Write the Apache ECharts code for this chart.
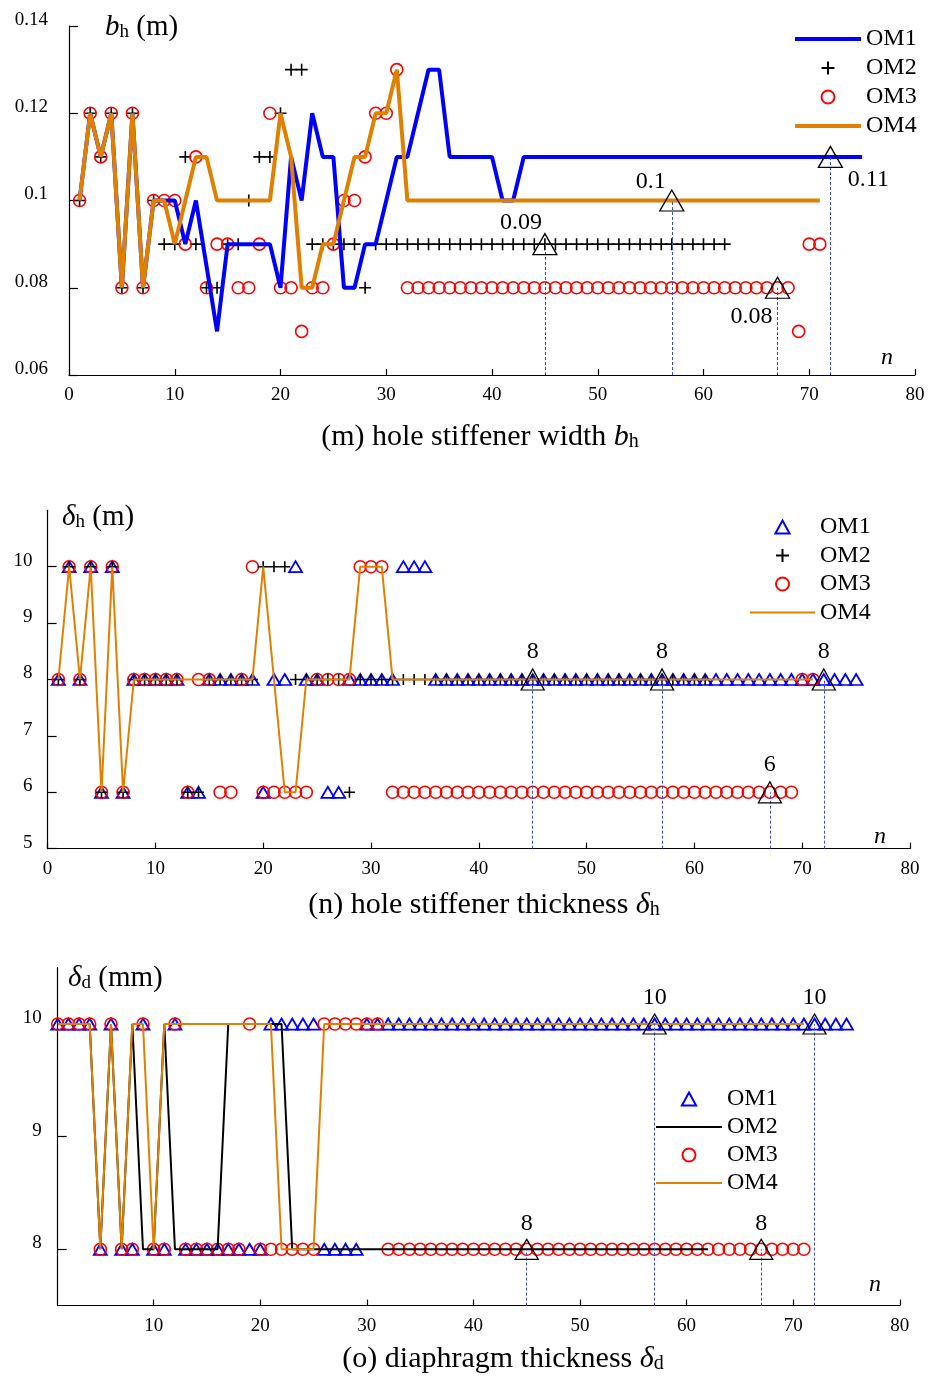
<!DOCTYPE html>
<html><head><meta charset="utf-8">
<script src="https://cdn.jsdelivr.net/npm/echarts@6.0.0/dist/echarts.min.js"></script>
<style>html,body{margin:0;padding:0;background:#fff}#c{width:935px;height:1377px}</style>
</head><body><div id="c"></div>
<script>
// ---------- tick labels ----------
const xTicksMN = [0, 10, 20, 30, 40, 50, 60, 70, 80];
const xTicksO = [10, 20, 30, 40, 50, 60, 70, 80];
const yTicksM = [0.06, 0.08, 0.1, 0.12, 0.14];
const yTicksN = [5, 6, 7, 8, 9, 10];
const yTicksO = [8, 9, 10];

// ---------- panel (m): hole stiffener width b_h, values for n = 1, 2, ... ----------
const mOM1 = [0.10,0.12,0.11,0.12,0.08,0.12,0.08,0.10,0.10,0.10,
  0.09,0.10,0.085,0.07,0.09,0.09,0.09,0.09,0.09,0.08,
  0.11,0.10,0.12,0.11,0.11,0.08,0.08,0.09,0.09,0.10,
  0.11,0.11,0.12,0.13,0.13,0.11,0.11,0.11,0.11,0.11,
  0.10,0.10,0.11,0.11,0.11,0.11,0.11,0.11,0.11,0.11,
  0.11,0.11,0.11,0.11,0.11,0.11,0.11,0.11,0.11,0.11,
  0.11,0.11,0.11,0.11,0.11,0.11,0.11,0.11,0.11,0.11,
  0.11,0.11,0.11,0.11,0.11];
const mOM2 = [0.10,0.12,0.11,0.12,0.08,0.12,0.08,0.10,0.09,0.09,
  0.11,0.09,0.08,0.08,0.09,0.09,0.10,0.11,0.11,0.12,
  0.13,0.13,0.09,0.09,0.09,0.09,0.09,0.08,0.09,0.09,
  0.09,0.09,0.09,0.09,0.09,0.09,0.09,0.09,0.09,0.09,
  0.09,0.09,0.09,0.09,0.09,0.09,0.09,0.09,0.09,0.09,
  0.09,0.09,0.09,0.09,0.09,0.09,0.09,0.09,0.09,0.09,
  0.09,0.09];
const mOM3 = [0.10,0.12,0.11,0.12,0.08,0.12,0.08,0.10,0.10,0.10,
  0.09,0.11,0.08,0.09,0.09,0.08,0.08,0.09,0.12,0.08,
  0.08,0.07,0.08,0.08,0.09,0.10,0.10,0.11,0.12,0.12,
  0.13,0.08,0.08,0.08,0.08,0.08,0.08,0.08,0.08,0.08,
  0.08,0.08,0.08,0.08,0.08,0.08,0.08,0.08,0.08,0.08,
  0.08,0.08,0.08,0.08,0.08,0.08,0.08,0.08,0.08,0.08,
  0.08,0.08,0.08,0.08,0.08,0.08,0.08,0.08,0.07,0.09,
  0.09];
const mOM4 = [0.10,0.12,0.11,0.12,0.08,0.12,0.08,0.10,0.10,0.09,
  0.10,0.11,0.11,0.10,0.10,0.10,0.10,0.10,0.10,0.12,
  0.11,0.08,0.08,0.09,0.09,0.10,0.11,0.11,0.12,0.12,
  0.13,0.10,0.10,0.10,0.10,0.10,0.10,0.10,0.10,0.10,
  0.10,0.10,0.10,0.10,0.10,0.10,0.10,0.10,0.10,0.10,
  0.10,0.10,0.10,0.10,0.10,0.10,0.10,0.10,0.10,0.10,
  0.10,0.10,0.10,0.10,0.10,0.10,0.10,0.10,0.10,0.10,
  0.10];
const mMarkN = [45, 57, 67, 72];
const mMarkV = [0.09, 0.1, 0.08, 0.11];

// ---------- panel (n): hole stiffener thickness delta_h ----------
const nOM1 = [8,10,8,10,6,10,6,8,8,8,
  8,8,6,6,8,8,8,8,8,6,
  8,8,10,8,8,6,6,8,8,8,
  8,8,10,10,10,8,8,8,8,8,
  8,8,8,8,8,8,8,8,8,8,
  8,8,8,8,8,8,8,8,8,8,
  8,8,8,8,8,8,8,8,8,8,
  8,8,8,8,8];
const nOM2 = [8,10,8,10,6,10,6,8,8,8,
  8,8,6,6,8,8,8,8,8,10,
  10,10,8,8,8,8,8,6,8,8,
  8,8,8,8,8,8,8,8,8,8,
  8,8,8,8,8,8,8,8,8,8,
  8,8,8,8,8,8,8,8,8,8,
  8];
const nOM3 = [8,10,8,10,6,10,6,8,8,8,
  8,8,6,8,8,6,6,8,10,6,
  6,6,6,6,8,8,8,8,10,10,
  10,6,6,6,6,6,6,6,6,6,
  6,6,6,6,6,6,6,6,6,6,
  6,6,6,6,6,6,6,6,6,6,
  6,6,6,6,6,6,6,6,6,8,
  8];
const nOM4 = [8,10,8,10,6,10,6,8,8,8,
  8,8,8,8,8,8,8,8,8,10,
  8,6,6,8,8,8,8,8,10,10,
  10,8,8,8,8,8,8,8,8,8,
  8,8,8,8,8,8,8,8,8,8,
  8,8,8,8,8,8,8,8,8,8,
  8,8,8,8,8,8,8,8,8,8,
  8];
const nMarkN = [45, 57, 67, 72];
const nMarkV = [8, 8, 6, 8];

// ---------- panel (o): diaphragm thickness delta_d ----------
const oOM1 = [10,10,10,10,8,10,8,8,10,8,
  8,10,8,8,8,8,8,8,8,8,
  10,10,10,10,10,8,8,8,8,10,
  10,10,10,10,10,10,10,10,10,10,
  10,10,10,10,10,10,10,10,10,10,
  10,10,10,10,10,10,10,10,10,10,
  10,10,10,10,10,10,10,10,10,10,
  10,10,10,10,10];
const oOM2 = [10,10,10,10,8,10,8,10,8,8,
  10,8,8,8,8,8,10,10,10,10,
  10,10,8,8,8,8,8,8,8,8,
  8,8,8,8,8,8,8,8,8,8,
  8,8,8,8,8,8,8,8,8,8,
  8,8,8,8,8,8,8,8,8,8,
  8,8];
const oOM3 = [10,10,10,10,8,10,8,8,10,8,
  8,10,8,8,8,8,8,8,10,8,
  8,8,8,8,8,10,10,10,10,10,
  10,8,8,8,8,8,8,8,8,8,
  8,8,8,8,8,8,8,8,8,8,
  8,8,8,8,8,8,8,8,8,8,
  8,8,8,8,8,8,8,8,8,8,
  8];
const oOM4 = [10,10,10,10,8,10,8,10,10,8,
  10,10,10,10,10,10,10,10,10,10,
  10,8,8,8,8,10,10,10,10,10,
  10,10,10,10,10,10,10,10,10,10,
  10,10,10,10,10,10,10,10,10,10,
  10,10,10,10,10,10,10,10,10,10,
  10,10,10,10,10,10,10,10,10,10,
  10];
const oMarkN = [45, 57, 67, 72];
const oMarkV = [8, 10, 8, 10];

// ---------- styling ----------
const FONT = 'Liberation Serif';
const BLUE = '#0000ff', RED = '#ff0000', ORANGE = '#e08000', BLACK = '#000000';
const DASH = '#3a4ad8';
const PLUS = 'path://M0,6L12,6M6,0L6,12';
const TRI = 'path://M6,0L12,11L0,11Z';
const THICK = 'path://M0,0L66,0L66,4L0,4Z';
const THIN = 'path://M0,0L66,0L66,2L0,2Z';

function pairs(arr) { return arr.map((v, i) => [i + 1, v]); }

function xAxis(grid, min, max, ticks) {
  return {
    type: 'value', gridIndex: grid, min: min, max: max,
    axisLine: { show: true, onZero: false, lineStyle: { color: BLACK, width: 1.2 } },
    axisTick: { show: true, inside: true, length: 6, customValues: ticks, lineStyle: { color: BLACK, width: 1.2 } },
    axisLabel: { show: true, customValues: ticks, margin: 11, fontSize: 19, fontFamily: FONT, color: BLACK },
    splitLine: { show: false }
  };
}
function yAxis(grid, min, max, ticks, margin) {
  return {
    type: 'value', gridIndex: grid, min: min, max: max,
    axisLine: { show: true, onZero: false, lineStyle: { color: BLACK, width: 1.2 } },
    axisTick: { show: true, inside: true, length: 9, customValues: ticks, lineStyle: { color: BLACK, width: 1.2 } },
    axisLabel: { show: true, customValues: ticks, margin: margin, fontSize: 19, fontFamily: FONT, color: BLACK,
      verticalAlign: 'bottom', lineHeight: 12 },
    splitLine: { show: false }
  };
}
function lineSeries(name, grid, arr, color, width) {
  return { type: 'line', name: name, xAxisIndex: grid, yAxisIndex: grid, data: pairs(arr),
    symbol: 'none', showSymbol: false, lineStyle: { color: color, width: width, opacity: 1 },
    itemStyle: { color: color, opacity: 1 }, silent: true };
}
function markerSeries(name, grid, arr, symbol, size, color, bw) {
  return { type: 'scatter', name: name, xAxisIndex: grid, yAxisIndex: grid, data: pairs(arr),
    symbol: symbol, symbolSize: size, symbolKeepAspect: true,
    itemStyle: { color: 'none', borderColor: color, borderWidth: bw, opacity: 1 }, silent: true };
}
function markSeries(grid, ns, vs, yMin, size, offsets) {
  return { type: 'scatter', xAxisIndex: grid, yAxisIndex: grid, silent: true,
    data: ns.map((n, i) => ({ value: [n, vs[i]], label: { offset: offsets[i] } })),
    symbol: 'triangle', symbolSize: size,
    itemStyle: { color: 'none', borderColor: BLACK, borderWidth: 1.3, opacity: 1 },
    label: { show: true, position: 'inside', fontSize: 24, fontFamily: FONT, color: BLACK,
      textBorderWidth: 0, textBorderColor: 'transparent', textShadowBlur: 0,
      formatter: p => String(p.value[1]) },
    z: 5,
    markLine: { silent: true, symbol: ['none', 'none'], label: { show: false },
      lineStyle: { type: [3, 2], color: DASH, width: 1, opacity: 1 },
      data: ns.map((n, i) => [{ coord: [n, yMin] }, { coord: [n, vs[i]] }]) }
  };
}
function legend(items, left, top, width, gap) {
  return { show: true, orient: 'vertical', left: left, top: top, data: items, padding: 0,
    itemWidth: width, itemHeight: 13, itemGap: gap, selectedMode: false,
    formatter: n => n.trim(),
    textStyle: { fontSize: 24, fontFamily: FONT, color: BLACK, lineHeight: 24 } };
}
function rich(sz) {
  return {
    t: { fontSize: sz, fontFamily: FONT, color: BLACK, lineHeight: sz },
    i: { fontSize: sz, fontFamily: FONT, fontStyle: 'italic', color: BLACK, lineHeight: sz },
    s: { fontSize: Math.round(sz * 0.65), fontFamily: FONT, color: BLACK, lineHeight: 8, verticalAlign: 'bottom' }
  };
}
function txt(x, y, text, sz, align) {
  return { type: 'text', x: x, y: y, silent: true,
    style: { text: text, rich: rich(sz), align: align || 'left', verticalAlign: 'middle' } };
}

const legendM = [{ name: 'OM1', icon: THICK }, { name: 'OM2' }, { name: 'OM3' }, { name: 'OM4', icon: THICK }];
const legendN = [{ name: 'OM1 ' }, { name: 'OM2 ' }, { name: 'OM3 ' }, { name: 'OM4 ', icon: THIN }];
const legendO = [{ name: 'OM1  ' }, { name: 'OM2  ', icon: THIN }, { name: 'OM3  ' }, { name: 'OM4  ', icon: THIN }];

const option = {
  animation: false,
  backgroundColor: '#ffffff',
  grid: [
    { left: 69, top: 26, width: 846, height: 349, containLabel: false, outerBoundsMode: 'none' },
    { left: 47.6, top: 510.3, width: 862.4, height: 338.4, containLabel: false, outerBoundsMode: 'none' },
    { left: 57.7, top: 967.7, width: 842.1, height: 337.9, containLabel: false, outerBoundsMode: 'none' }
  ],
  xAxis: [
    xAxis(0, 0, 80, xTicksMN),
    xAxis(1, 0, 80, xTicksMN),
    xAxis(2, 1, 80, xTicksO)
  ],
  yAxis: [
    yAxis(0, 0.06, 0.14, yTicksM, 21),
    yAxis(1, 5, 11, yTicksN, 15),
    yAxis(2, 7.5, 10.5, yTicksO, 16)
  ],
  legend: [
    legend(legendM, 795, 27, 66, 5),
    legend(legendN, 750, 515, 65, 4.5),
    legend(legendO, 656, 1087, 66, 4)
  ],
  series: [
    // panel m
    lineSeries('OM1', 0, mOM1, BLUE, 4),
    lineSeries('OM4', 0, mOM4, ORANGE, 4),
    markerSeries('OM2', 0, mOM2, PLUS, 12, BLACK, 1.6),
    markerSeries('OM3', 0, mOM3, 'circle', 12, RED, 1.6),
    markSeries(0, mMarkN, mMarkV, 0.06, [24, 21], [[-24, -21], [-21, -19], [-26, 29], [38, 23]]),
    // panel n
    markerSeries('OM1 ', 1, nOM1, TRI, [13, 12], BLUE, 1.8),
    markerSeries('OM3 ', 1, nOM3, 'circle', 12, RED, 1.6),
    markerSeries('OM2 ', 1, nOM2, PLUS, 11, BLACK, 1.6),
    lineSeries('OM4 ', 1, nOM4, ORANGE, 2),
    markSeries(1, nMarkN, nMarkV, 5, [23, 21], [[0, -28], [0, -28], [0, -28], [0, -28]]),
    // panel o
    markerSeries('OM1  ', 2, oOM1, TRI, [13, 12], BLUE, 1.8),
    markerSeries('OM3  ', 2, oOM3, 'circle', 12, RED, 1.6),
    lineSeries('OM2  ', 2, oOM2, BLACK, 2),
    lineSeries('OM4  ', 2, oOM4, ORANGE, 2),
    markSeries(2, oMarkN, oMarkV, 7.5, [23, 20], [[0, -26], [0, -26], [0, -26], [0, -26]])
  ],
  graphic: [
    txt(105, 27, '{i|b}{s|h}{t| (m)}', 29),
    txt(62, 517, '{i|δ}{s|h}{t| (m)}', 29),
    txt(68, 978, '{i|δ}{s|d}{t| (mm)}', 29),
    txt(887, 358, '{i|n}', 24, 'center'),
    txt(880, 837, '{i|n}', 24, 'center'),
    txt(875, 1285, '{i|n}', 24, 'center'),
    txt(480, 437, '{t|(m) hole stiffener width }{i|b}{s|h}', 30, 'center'),
    txt(484, 905, '{t|(n) hole stiffener thickness }{i|δ}{s|h}', 30, 'center'),
    txt(503, 1359, '{t|(o) diaphragm thickness }{i|δ}{s|d}', 30, 'center')
  ]
};
const chart = echarts.init(document.getElementById('c'), null, { renderer: 'canvas' });
chart.setOption(option);
</script></body></html>
